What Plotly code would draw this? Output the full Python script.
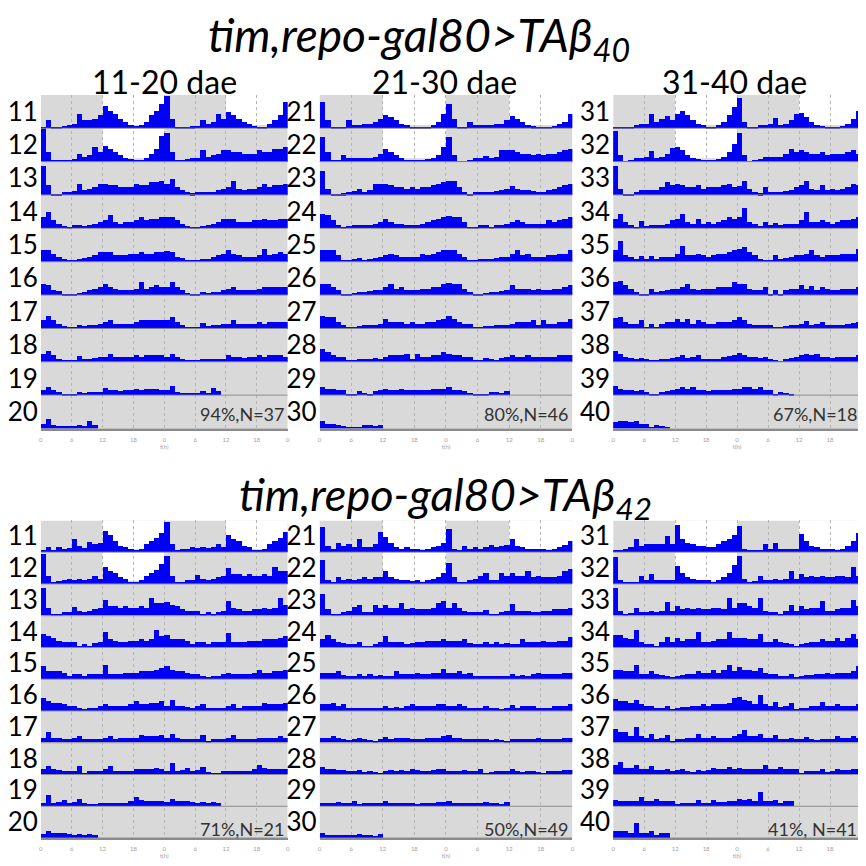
import plotly.graph_objects as go

# page body has an 8px margin: the figure is drawn 8px in from the top-left corner
OFF = 8
FW = FH = 866 - OFF

# ---------------- data (hourly activity, 0-10 = full row height) ----------------
# each list = one day (24 hourly bins); the last day of each panel is partial
TA40_11_20 = [
    [0.3, 2.5, 0.3, 0.5, 0.8, 1.0, 1.2, 4.5, 2.5, 2.5, 3, 4, 7, 5.5, 4.5, 3, 2, 1, 0.7, 1, 2, 4, 5.5, 7.5],
    [10, 3, 0.5, 0.3, 0.3, 0.6, 0.8, 2.5, 1.5, 2, 4.5, 3, 5, 4, 3, 2, 1.2, 0.7, 0.3, 0.5, 1.2, 2.5, 4, 8],
    [9, 3, 0.3, 0.3, 0.8, 1, 1.2, 3.5, 1.5, 2, 2.5, 3.5, 3.5, 3, 3, 2.5, 2.5, 2.5, 3.5, 3, 3, 4, 4, 4.5],
    [3.5, 5, 2.5, 1.5, 0.8, 0.5, 1, 1, 0.8, 1, 1.5, 2, 2.5, 4.3, 2, 1.5, 2, 2, 2.5, 3.5, 2.5, 3, 3, 3.5],
    [3.5, 3.5, 2.5, 1.5, 0.8, 0.5, 0.5, 0.8, 1.2, 1.5, 2, 3, 3, 3, 2, 2, 2, 2.5, 2.5, 3, 2.5, 2.5, 3, 3],
    [3.3, 3, 1.5, 1.2, 0.5, 0.5, 0.5, 0.8, 1, 1.5, 2, 2.5, 3.5, 2.5, 2, 1.5, 1.5, 1.5, 2, 4, 2, 2.5, 3, 2.5],
    [2.5, 4, 2.5, 1.5, 0.8, 0.5, 0.5, 1, 0.8, 1, 1, 1.5, 2, 2.5, 1.5, 1.5, 1.5, 1.5, 2, 2.5, 2.5, 2.5, 2.5, 2.5],
    [2.5, 3.5, 2, 1, 0.5, 0.3, 0.5, 1.8, 0.8, 1, 1.2, 1.5, 1.5, 2.5, 1.5, 1.5, 1.5, 1.5, 2, 1.5, 2, 2, 2, 2],
    [1.5, 2.5, 1.5, 1, 0.5, 0.3, 0.5, 1, 0.8, 1, 1, 1, 2.2, 1.5, 1.5, 1.2, 1.5, 1.5, 2, 1.5, 2, 2, 2, 1.5],
    [1.5, 3, 1, 0.8, 0.8, 0.8, 0.8, 1.2, 0.8, 2.2, 1.2],
]
TA40_21_30 = [
    [8, 2.5, 0.3, 0.2, 0.5, 2.5, 1, 1, 1.2, 1.5, 2, 3, 4, 3.5, 2.5, 1.5, 1, 0.5, 0.3, 0.3, 0.5, 1, 2, 4.5],
    [7.5, 3, 0.3, 0.3, 2, 1, 1, 1, 1, 1.2, 1.5, 2.5, 3.8, 3, 2, 1, 0.6, 0.5, 0.3, 0.5, 0.8, 1.2, 2, 4.5],
    [7.5, 2, 0.2, 0.2, 0.6, 1, 1.2, 1.8, 1, 1.5, 3.5, 3.5, 3.5, 3, 2.5, 2.5, 2, 2.5, 2, 2.5, 2.5, 3, 3.5, 4],
    [4.5, 4.3, 2.5, 1, 0.3, 0.8, 1, 1, 1, 1.2, 1.5, 2, 2.8, 2, 1.5, 1.5, 1.2, 1, 1, 1.5, 2, 2.5, 3, 3.5],
    [3.8, 3.5, 3.5, 2, 0.3, 0.3, 1, 1.2, 0.5, 1, 1.2, 1.5, 2, 2.5, 2, 1.5, 1.5, 1.5, 1.5, 2.5, 2, 2.5, 3, 3.5],
    [3.5, 3.5, 2.5, 1.5, 0.3, 0.5, 0.8, 1, 1, 1.2, 1.5, 1.5, 2.5, 3.5, 2, 2.5, 1.5, 1.5, 1.5, 2, 2, 2.5, 2.5, 3.5],
    [3.8, 3.5, 3.5, 2, 1, 0.5, 0.3, 0.8, 1, 1, 1.2, 1.5, 3, 2, 2, 2, 1.5, 2, 1.5, 1.5, 2, 2, 2.5, 3],
    [4, 3, 2, 1.5, 1.5, 0.3, 0.3, 0.8, 0.8, 1, 1.2, 1, 1.5, 2, 2, 2, 2.5, 1, 2.5, 1.5, 1.5, 2, 2, 3],
    [2.5, 2, 2, 1.5, 1.5, 0.5, 0.3, 1.2, 0.8, 0.5, 1.2, 1.5, 2, 1.5, 1.5, 2, 1.5, 1.5, 1.5, 1.5, 1.5, 2, 2, 2],
    [2.5, 1.5, 1.5, 1.2, 0.8, 0.5, 0.5, 0.2, 1, 1, 0.8, 1.2],
]
TA40_31_40 = [
    [0.3, 0.5, 0.5, 0.5, 1, 1.5, 1.5, 4.5, 2, 2.8, 3.7, 2.5, 4.5, 5.3, 4, 2.5, 1.5, 1, 0.5, 0.5, 1, 2, 4, 6.5],
    [9.5, 2, 0.2, 0.3, 1, 1, 1.5, 3.2, 1, 1.5, 2.5, 4.3, 4.6, 3.5, 2, 1, 0.8, 0.5, 0.3, 0.5, 0.8, 1.5, 3, 5.5],
    [9, 2, 0.2, 0.3, 0.8, 1.5, 1.5, 1.5, 1.5, 2.5, 3.9, 3, 3.5, 3, 2.5, 2.5, 3, 2, 2.5, 2.5, 2.5, 3, 3.5, 2.5],
    [2.8, 4.5, 2, 1, 0.5, 2.4, 0.8, 1, 1, 1.2, 1.5, 2.5, 3, 4.5, 2, 1.5, 3, 1.5, 2, 1.5, 2, 2.5, 3.5, 3],
    [3.5, 6.3, 2, 1.5, 0.8, 1.9, 1, 1.8, 1, 1.5, 1.5, 1.5, 2.5, 5, 2, 2, 2.5, 2, 1.5, 2, 2.5, 2.5, 3, 3.5],
    [4, 4.5, 3, 2, 1, 0.5, 0.5, 2, 1, 1.2, 1.5, 2, 2, 2.5, 3.5, 2, 1.5, 2, 2, 2, 2.5, 2.5, 2.5, 4],
    [3.3, 3.5, 2, 1.5, 1.5, 2.5, 0.5, 1.5, 0.3, 1.5, 2, 2, 3, 2, 2.8, 1.5, 2.5, 2, 1.5, 1.5, 2, 2, 2, 2.5],
    [3.5, 2.5, 1.5, 1.2, 1, 1.2, 1, 0.5, 0.3, 0.8, 1, 1.2, 1.5, 2.2, 1.2, 1.5, 2, 1, 1, 1, 1, 1.5, 1.8, 2],
    [2.8, 2, 1.5, 1.5, 1.2, 1.5, 1, 0.5, 0.2, 1, 1.2, 1.5, 2, 2.5, 2, 2.5, 1.5, 1.5, 1.2, 1.5, 1.5, 1.5, 1.5, 2],
    [2, 2.5, 2.5, 2, 2.5, 1.5, 1.5, 0.5, 1, 0.8, 0.5],
]
TA42_11_20 = [
    [0.3, 1.4, 0.3, 1.5, 1, 1.2, 4, 2, 1.2, 3.2, 2.5, 3, 6.7, 5.5, 3.5, 2, 1.5, 1, 0.5, 1, 2.5, 3.5, 4.5, 6],
    [9.5, 2.5, 0.5, 0.8, 1, 1.5, 1.2, 1.5, 1.2, 1.5, 2.5, 1.5, 5.3, 4, 3.5, 2, 1.5, 0.5, 0.5, 1, 2.5, 3.5, 4.5, 6.5],
    [8.9, 2.5, 0.3, 0.5, 1, 1, 2.8, 1.5, 1, 1.5, 2, 2.5, 5, 3, 3, 2.5, 3, 2.5, 2.5, 3, 2.5, 5.5, 4, 4],
    [4.3, 3.5, 3, 2, 1.5, 1.5, 1.5, 0.3, 1, 0.5, 1.2, 1.5, 4.8, 2.5, 2, 1.5, 1.5, 2, 2, 2.5, 2, 2.5, 5.5, 3.5],
    [4, 2.5, 2.5, 2.5, 2, 1, 1.5, 1.5, 1, 1.5, 1.5, 1.5, 4.5, 1.5, 1.5, 1.5, 2, 2, 2, 2.5, 2.5, 2.5, 3, 3.5],
    [4, 3, 2.5, 2.5, 2, 1.5, 1.5, 1, 0.3, 0.8, 1, 1.5, 2, 1.5, 1.5, 1.5, 1.5, 2, 3, 2, 2, 2.5, 2.5, 3],
    [1.5, 3.5, 1.5, 1.5, 1.2, 1, 1.5, 2, 1, 1, 1, 1, 1.5, 2, 1, 1.5, 1.5, 1.5, 1.5, 2.5, 2, 2, 2, 2.5],
    [1.5, 2.7, 1.5, 1.2, 1, 1, 1, 2.5, 0.5, 1, 1, 1, 1.5, 2.5, 1, 1, 1, 1, 1.5, 1.5, 1.5, 1.5, 2, 1.5],
    [1, 3.5, 1, 1.2, 2, 1, 1.2, 2.3, 0.8, 0.5, 0.5, 1, 1, 1, 1, 1, 1, 1.5, 3, 2, 1.5, 1.5, 1.5, 1.5],
    [1.2, 2.3, 1.5, 1.5, 1.5, 1.2, 1, 1.3, 1, 1.3, 0.8],
]
TA42_21_30 = [
    [8, 2, 1, 3, 2, 2.5, 1.5, 4, 1.5, 1.5, 2.5, 6.3, 4.7, 3, 1.5, 1, 1.5, 1, 0.8, 0.5, 1, 1.5, 2, 3],
    [7.5, 1, 0.5, 2, 1, 1.5, 1, 1.5, 2.2, 1.5, 2, 2.2, 4, 2, 1.5, 1, 1, 0.8, 1, 0.5, 1, 1.5, 2.2, 3.5],
    [6.8, 2, 0.3, 0.5, 1, 1.5, 2.6, 3.3, 1, 1, 3.3, 2.5, 3.3, 2.5, 2.5, 4, 2, 2.5, 2, 2, 2, 2.5, 4, 4.6],
    [2.5, 4, 2.5, 1.5, 1.2, 1, 1, 1.8, 0.5, 0.5, 1, 1.5, 3.7, 1.5, 1.5, 1.5, 1, 1.2, 1.5, 1.5, 2, 2, 2, 2.5],
    [2, 2, 2, 2.7, 1.2, 1, 1, 1.5, 1, 1.5, 1, 1.2, 1, 1, 2.5, 1.5, 1.5, 1.5, 2, 1.5, 1.5, 2, 2, 3.3],
    [2, 2, 2.5, 1.5, 2, 1, 1, 1, 1, 0.8, 1, 1, 1.5, 1, 1.2, 1, 1.5, 2, 1.5, 1.5, 1.5, 1.5, 2, 2],
    [1.5, 1.5, 2, 1.5, 1, 0.8, 1, 1.5, 1, 0.8, 0.5, 1, 1.8, 1, 1.5, 1.5, 1.5, 1, 1, 1, 1.5, 1.5, 1.5, 2],
    [2.4, 1.5, 1.5, 1.2, 1.2, 1, 1, 1.2, 0.8, 1, 0.8, 0.5, 1, 1.2, 1, 1.2, 1, 1.5, 1.2, 1, 1, 1.2, 1.5, 1.5],
    [1, 1, 1, 1.2, 1, 1, 1.5, 0.5, 0.8, 1, 1, 1, 1.5, 1, 0.8, 1, 1, 0.8, 0.5, 1, 1, 1, 1.2, 1.2],
    [1.5, 1, 0.8, 0.8, 0.8, 0.8, 1, 1.2, 1, 0.8, 0.5, 1.2],
]
TA42_31_40 = [
    [0.3, 0.5, 1, 1.5, 4, 2, 2.5, 2.5, 2.5, 2.5, 5, 2.5, 8.7, 4, 3, 2.5, 2, 2, 1.5, 1.5, 2.5, 3.5, 4, 5.5],
    [8.5, 1, 0.3, 0.3, 0.5, 2.5, 1, 3, 1, 1, 1, 1, 5.8, 3.5, 2, 1.5, 1, 1, 1, 0.5, 1, 2, 3.5, 6],
    [9, 1.5, 0.3, 0.8, 2.5, 1, 1.2, 1.5, 1.2, 1.5, 4.2, 1.5, 3, 2, 2.5, 2, 2.5, 2, 2, 2.5, 2.5, 2, 5.5, 2.5],
    [3.9, 4, 3, 2.5, 5.5, 1.5, 1, 1, 0.5, 1.5, 3.3, 1.5, 3, 2, 2.5, 2.5, 4.8, 1.5, 1.5, 2, 2.5, 2.5, 5, 3],
    [2.8, 3, 2.5, 2.5, 4.4, 1.5, 1.5, 2.5, 1.5, 1.2, 1, 0.3, 1, 1.2, 1.5, 1.5, 2.5, 2, 2, 3, 2, 3, 4.4, 2.5],
    [3.7, 3, 3, 2.5, 3.5, 2, 1.5, 1.5, 1, 1, 1.5, 0.3, 1, 1.2, 1.2, 1.5, 1.5, 2, 1.5, 2, 2, 2, 2.5, 4.2],
    [4.4, 3.5, 3.2, 2, 5, 2, 1.5, 2.8, 1.2, 1.5, 2.5, 0.5, 1, 1, 1.5, 1.5, 2.8, 1.5, 1.5, 2, 1.5, 1.5, 1.5, 2],
    [2.8, 3.9, 2, 2, 2.8, 1.5, 1.5, 2.5, 1.2, 1.2, 1.5, 1, 1.2, 1.8, 1, 0.8, 1.2, 1, 1.2, 2, 1.5, 1.5, 2.2, 1.5],
    [1.9, 1.5, 1.5, 1.5, 1.5, 2.8, 1.5, 1.5, 2.2, 1.5, 1.5, 1.5, 0.5, 1, 1, 1, 1.8, 0.8, 1, 1.8, 1.2, 1.2, 1.5, 1.5],
    [2.2, 2, 2.3, 1.5, 4.6, 1.5, 1.5, 2, 1, 1.5, 1.5],
]

ROWS_11_20 = ["11", "12", "13", "14", "15", "16", "17", "18", "19", "20"]
ROWS_21_30 = ["21", "22", "23", "24", "25", "26", "27", "28", "29", "30"]
ROWS_31_40 = ["31", "32", "33", "34", "35", "36", "37", "38", "39", "40"]
COLUMN_TITLES = ["11-20 dae", "21-30 dae", "31-40 dae"]
NOTES_TA40 = ["94%,N=37", "80%,N=46", "67%,N=18"]
NOTES_TA42 = ["71%,N=21", "50%,N=49", "41%, N=41"]
X_TICKS = [0, 6, 12, 18, 24, 30, 36, 42, 48]
X_TICKTEXT = ["0", "6", "12", "18", "0", "6", "12", "18", "0"]
LIGHT_DAYS = [0, 1]          # days (within panel) with the white (light) band
LIGHT_HOURS = (12, 24)

FONT = "Lato, Carlito, Calibri, sans-serif"
BAR = "#0000F5"
GREY = "#d9d9d9"


def px_x(p):
    return (p - OFF) / FW


def px_y(p):
    return 1 - (p - OFF) / FH


# ---------------- layout geometry (pixels in the 866 page) ----------------
COLS_X = [(39, 287), (319, 573), (614, 863)]
BLOCK_Y = [(94, 428), (520, 838)]

panels = []
for b, (datasets, notes) in enumerate([
        ([TA40_11_20, TA40_21_30, TA40_31_40], NOTES_TA40),
        ([TA42_11_20, TA42_21_30, TA42_31_40], NOTES_TA42)]):
    for c, ds in enumerate(datasets):
        labels = [ROWS_11_20, ROWS_21_30, ROWS_31_40][c]
        panels.append((ds, labels, notes[c], COLS_X[c], BLOCK_Y[b], b))

fig = go.Figure()
shapes = []
annotations = []
layout = {}

for i, (days, labels, note, (x0, x1), (y0, y1), b) in enumerate(panels):
    sfx = "" if i == 0 else str(i + 1)
    xs, ys, bases = [], [], []
    for r in range(10):
        base = 9 - r
        for off, d in ((0, r), (24, r + 1)):
            if d < len(days):
                for h, v in enumerate(days[d]):
                    xs.append(off + h + 0.5)
                    ys.append(v / 10 * 0.97)
                    bases.append(base)
    fig.add_trace(go.Bar(x=xs, y=ys, base=bases, width=1,
                         marker=dict(color=BAR, line=dict(width=0)),
                         xaxis="x" + sfx, yaxis="y" + sfx,
                         showlegend=False, hoverinfo="skip"))

    layout["xaxis" + sfx] = dict(
        domain=[px_x(x0), px_x(x1)], range=[0, 48], anchor="y" + sfx,
        tickmode="array", tickvals=X_TICKS, ticktext=X_TICKTEXT,
        tickfont=dict(size=6, color="#a0a0a0", family=FONT),
        showgrid=True, gridcolor="#b5b5b5", griddash="dot", gridwidth=1,
        zeroline=False, showline=True, linecolor="#8a8a8a", linewidth=2,
        ticks="", ticklabelstandoff=4, fixedrange=True,
        title=dict(text="t(h)", font=dict(size=6, color="#a0a0a0", family=FONT), standoff=1))
    layout["yaxis" + sfx] = dict(
        domain=[px_y(y1), px_y(y0)], range=[0, 10], anchor="x" + sfx,
        tickmode="array", tickvals=[9.5 - r for r in range(10)], ticktext=labels,
        tickfont=dict(size=26, color="black", family=FONT),
        showgrid=False, zeroline=False, showline=False, ticks="",
        ticklabelstandoff=2, fixedrange=True)

    xr, yr = "x" + sfx, "y" + sfx
    for r in range(10):
        base = 9 - r
        shapes.append(dict(type="rect", xref=xr, yref=yr, x0=0, x1=48,
                           y0=base, y1=base + 1, fillcolor=GREY,
                           line=dict(width=0), layer="below"))
        if r in LIGHT_DAYS:
            shapes.append(dict(type="rect", xref=xr, yref=yr, x0=LIGHT_HOURS[0], x1=LIGHT_HOURS[1],
                               y0=base + 0.1, y1=base + 1, fillcolor="white",
                               line=dict(width=0), layer="below"))
        if (r + 1) in LIGHT_DAYS:
            shapes.append(dict(type="rect", xref=xr, yref=yr, x0=24 + LIGHT_HOURS[0], x1=24 + LIGHT_HOURS[1],
                               y0=base + 0.1, y1=base + 1, fillcolor="white",
                               line=dict(width=0), layer="below"))
        shapes.append(dict(type="line", xref=xr, yref=yr, x0=0, x1=48,
                           y0=base, y1=base, line=dict(color="#8c8c8c", width=1),
                           layer="above"))

    note_y = 413 if b == 0 else 829
    annotations.append(dict(text=note, xref="paper", yref="paper",
                            x=px_x(x1 - 3), y=px_y(note_y), xanchor="right", yanchor="middle",
                            showarrow=False, borderpad=0,
                            font=dict(size=18, color="#333333", family=FONT)))

# titles
annotations.append(dict(text="<i>tim,repo-gal80&gt;TA\u03b2<sub>40</sub></i>", xref="paper", yref="paper",
                        x=px_x(419), y=px_y(37), xanchor="center", yanchor="middle",
                        showarrow=False, borderpad=0,
                        font=dict(size=46, color="black", family=FONT)))
annotations.append(dict(text="<i>tim,repo-gal80&gt;TA\u03b2<sub>42</sub></i>", xref="paper", yref="paper",
                        x=px_x(446), y=px_y(497), xanchor="center", yanchor="middle",
                        showarrow=False, borderpad=0,
                        font=dict(size=45, color="black", family=FONT)))
for c, t in enumerate(COLUMN_TITLES):
    cx = [163, 445, 736][c]
    annotations.append(dict(text=t, xref="paper", yref="paper",
                            x=px_x(cx), y=px_y(81), xanchor="center", yanchor="middle",
                            showarrow=False, borderpad=0,
                            font=dict(size=32, color="black", family=FONT)))

fig.update_layout(width=FW, height=FH, margin=dict(l=0, r=0, t=0, b=0),
                  paper_bgcolor="white", plot_bgcolor="white",
                  bargap=0, barmode="overlay", showlegend=False,
                  shapes=shapes, annotations=annotations, **layout)

fig.write_html("out.html", include_plotlyjs=True, config={"displayModeBar": False})
